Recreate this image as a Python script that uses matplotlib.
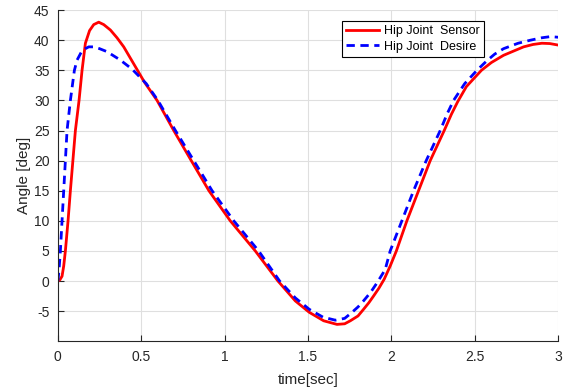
import matplotlib.pyplot as plt

plt.rcParams['font.family'] = ['Liberation Sans', 'DejaVu Sans']
plt.rcParams['axes.unicode_minus'] = False

# hip joint angle
t_sensor = [0, 0.012, 0.025, 0.035, 0.045, 0.061, 0.075, 0.09, 0.105, 0.127, 0.145,
            0.165, 0.19, 0.215, 0.245, 0.275, 0.315, 0.355, 0.395, 0.465, 0.52,
            0.595, 0.695, 0.80, 0.906, 1.034, 1.184, 1.32, 1.424, 1.508, 1.594,
            1.674, 1.72, 1.754, 1.80, 1.833, 1.865, 1.893, 1.925, 1.957, 1.993,
            2.03, 2.093, 2.163, 2.233, 2.317, 2.36, 2.398, 2.45, 2.54, 2.60,
            2.673, 2.793, 2.85, 2.903, 2.95, 3.0]
y_sensor = [0, 0.2, 0.8, 2.5, 5, 10, 15, 20, 25, 30, 35,
            39.5, 41.6, 42.6, 43, 42.6, 41.7, 40.4, 38.9, 35.6, 33.0,
            30, 25, 20, 15, 10, 5, 0, -3.3, -5.2, -6.6,
            -7.2, -7.1, -6.6, -5.8, -4.7, -3.6, -2.5, -1.2, 0.3, 2.5,
            5, 10, 15, 20, 25, 27.7, 29.8, 32.3, 35, 36.3,
            37.5, 38.9, 39.3, 39.5, 39.45, 39.2]

t_desire = [0, 0.006, 0.015, 0.025, 0.035, 0.045, 0.055, 0.075, 0.099, 0.115, 0.14,
            0.165, 0.185, 0.215, 0.25, 0.295, 0.375, 0.445, 0.53, 0.6, 0.705,
            0.815, 0.925, 1.055, 1.204, 1.33, 1.424, 1.508, 1.59, 1.664, 1.72,
            1.764, 1.8, 1.833, 1.875, 1.914, 1.963, 1.993, 2.063, 2.133, 2.209,
            2.293, 2.335, 2.373, 2.44, 2.513, 2.573, 2.62, 2.673, 2.76, 2.833,
            2.9, 2.953, 3.0]
y_desire = [0, 1.5, 5, 10, 15, 20, 25, 30, 35, 36.7, 38,
            38.6, 38.9, 38.9, 38.6, 38.1, 36.7, 35.2, 32.8, 30, 25,
            20, 15, 10, 5, 0, -2.8, -4.7, -6.0, -6.5, -6.2,
            -5.2, -4.3, -3.3, -1.9, -0.3, 1.9, 5, 10, 15, 20,
            25, 27.8, 30, 32.8, 35, 36.6, 37.7, 38.6, 39.5, 40.0,
            40.4, 40.6, 40.5]

fig = plt.figure(figsize=(5.73, 3.90), dpi=100)
ax = fig.add_axes([0.101, 0.125, 0.873, 0.849])

ax.plot(t_sensor, y_sensor, color='red', lw=2.0, label='Hip Joint  Sensor')
ax.plot(t_desire, y_desire, color='blue', lw=2.0, linestyle=(0, (3, 2)),
        label='Hip Joint  Desire')

ax.set_xlim(0, 3)
ax.set_ylim(-10, 45)
ax.set_xticks([0, 0.5, 1, 1.5, 2, 2.5, 3])
ax.set_xticklabels(['0', '0.5', '1', '1.5', '2', '2.5', '3'])
ax.set_yticks(range(-5, 46, 5))

ax.grid(True, color='#dfdfdf', lw=0.8)
ax.set_axisbelow(True)
for s in ['top', 'right']:
    ax.spines[s].set_visible(False)
for s in ['left', 'bottom']:
    ax.spines[s].set_color('#262626')
    ax.spines[s].set_linewidth(0.8)
ax.tick_params(direction='in', length=4, width=0.8, colors='#262626',
               labelsize=10, pad=6)

ax.set_xlabel('time[sec]', fontsize=11, color='#262626', labelpad=7)
ax.set_ylabel('Angle [deg]', fontsize=11, color='#262626', labelpad=2)

leg = ax.legend(loc='upper right', bbox_to_anchor=(0.852, 0.968), fontsize=9,
                fancybox=False, framealpha=1, edgecolor='black',
                handlelength=2.6, borderpad=0.35, labelspacing=0.3,
                handletextpad=0.4, borderaxespad=0)
leg.get_frame().set_linewidth(0.8)

plt.savefig('out.png', dpi=100)
